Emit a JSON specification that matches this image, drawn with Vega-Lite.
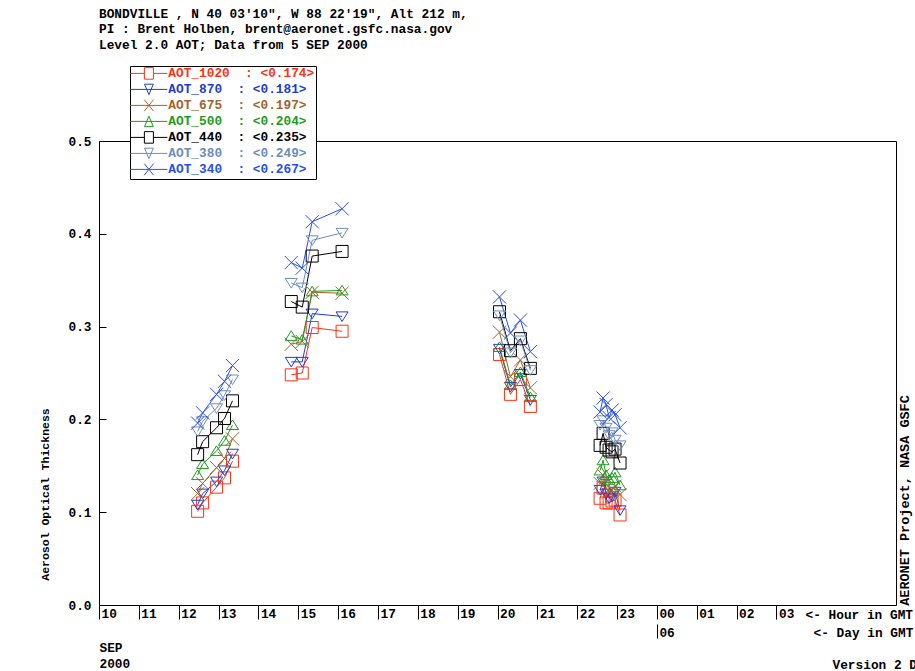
{
"$schema": "https://vega.github.io/schema/vega-lite/v6.json",
"width": 797, "height": 464,
"autosize": {"type": "none"},
"padding": {"left": 99, "top": 141, "right": 19, "bottom": 66},
"background": "white",
"title": {
  "text": ["BONDVILLE , N 40 03'10\", W 88 22'19\", Alt 212 m,", "PI : Brent Holben, brent@aeronet.gsfc.nasa.gov", "Level 2.0 AOT; Data from 5 SEP 2000"],
  "anchor": "start", "frame": "group", "offset": 14, "font": "Liberation Mono", "fontSize": 12.8, "fontWeight": "bold", "lineHeight": 15.3, "color": "black"
},
"config": {
  "view": {"stroke": "black", "strokeWidth": 1},
  "axis": {"labelFont": "Liberation Mono", "labelFontSize": 12.8, "labelFontWeight": "bold", "labelColor": "black", "titleFont": "Liberation Mono", "titleFontWeight": "bold", "titleColor": "black", "tickColor": "black", "grid": false, "domain": false}
},
"data": {"values": [
{"series":"AOT_1020","seg":1,"hour":12.475,"aot":0.101},{"series":"AOT_1020","seg":1,"hour":12.6,"aot":0.110},{"series":"AOT_1020","seg":1,"hour":12.95,"aot":0.127},{"series":"AOT_1020","seg":1,"hour":13.15,"aot":0.137},{"series":"AOT_1020","seg":1,"hour":13.35,"aot":0.155},
{"series":"AOT_870","seg":1,"hour":12.475,"aot":0.108},{"series":"AOT_870","seg":1,"hour":12.6,"aot":0.120},{"series":"AOT_870","seg":1,"hour":12.95,"aot":0.133},{"series":"AOT_870","seg":1,"hour":13.15,"aot":0.145},{"series":"AOT_870","seg":1,"hour":13.35,"aot":0.163},
{"series":"AOT_675","seg":1,"hour":12.475,"aot":0.120},{"series":"AOT_675","seg":1,"hour":12.6,"aot":0.131},{"series":"AOT_675","seg":1,"hour":12.95,"aot":0.148},{"series":"AOT_675","seg":1,"hour":13.15,"aot":0.158},{"series":"AOT_675","seg":1,"hour":13.35,"aot":0.179},
{"series":"AOT_500","seg":1,"hour":12.475,"aot":0.140},{"series":"AOT_500","seg":1,"hour":12.6,"aot":0.152},{"series":"AOT_500","seg":1,"hour":12.95,"aot":0.166},{"series":"AOT_500","seg":1,"hour":13.15,"aot":0.177},{"series":"AOT_500","seg":1,"hour":13.35,"aot":0.194},
{"series":"AOT_440","seg":1,"hour":12.475,"aot":0.162},{"series":"AOT_440","seg":1,"hour":12.6,"aot":0.176},{"series":"AOT_440","seg":1,"hour":12.95,"aot":0.191},{"series":"AOT_440","seg":1,"hour":13.15,"aot":0.201},{"series":"AOT_440","seg":1,"hour":13.35,"aot":0.220},
{"series":"AOT_380","seg":1,"hour":12.475,"aot":0.187},{"series":"AOT_380","seg":1,"hour":12.6,"aot":0.198},{"series":"AOT_380","seg":1,"hour":12.95,"aot":0.212},{"series":"AOT_380","seg":1,"hour":13.15,"aot":0.226},{"series":"AOT_380","seg":1,"hour":13.35,"aot":0.243},
{"series":"AOT_340","seg":1,"hour":12.475,"aot":0.196},{"series":"AOT_340","seg":1,"hour":12.6,"aot":0.207},{"series":"AOT_340","seg":1,"hour":12.95,"aot":0.227},{"series":"AOT_340","seg":1,"hour":13.15,"aot":0.241},{"series":"AOT_340","seg":1,"hour":13.35,"aot":0.258},
{"series":"AOT_1020","seg":2,"hour":14.825,"aot":0.248},{"series":"AOT_1020","seg":2,"hour":15.1,"aot":0.250},{"series":"AOT_1020","seg":2,"hour":15.35,"aot":0.299},{"series":"AOT_1020","seg":2,"hour":16.1,"aot":0.295},
{"series":"AOT_870","seg":2,"hour":14.825,"aot":0.262},{"series":"AOT_870","seg":2,"hour":15.1,"aot":0.262},{"series":"AOT_870","seg":2,"hour":15.35,"aot":0.314},{"series":"AOT_870","seg":2,"hour":16.1,"aot":0.311},
{"series":"AOT_675","seg":2,"hour":14.825,"aot":0.281},{"series":"AOT_675","seg":2,"hour":15.1,"aot":0.284},{"series":"AOT_675","seg":2,"hour":15.35,"aot":0.337},{"series":"AOT_675","seg":2,"hour":16.1,"aot":0.336},
{"series":"AOT_500","seg":2,"hour":14.825,"aot":0.290},{"series":"AOT_500","seg":2,"hour":15.1,"aot":0.286},{"series":"AOT_500","seg":2,"hour":15.35,"aot":0.338},{"series":"AOT_500","seg":2,"hour":16.1,"aot":0.339},
{"series":"AOT_440","seg":2,"hour":14.825,"aot":0.327},{"series":"AOT_440","seg":2,"hour":15.1,"aot":0.321},{"series":"AOT_440","seg":2,"hour":15.35,"aot":0.376},{"series":"AOT_440","seg":2,"hour":16.1,"aot":0.381},
{"series":"AOT_380","seg":2,"hour":14.825,"aot":0.347},{"series":"AOT_380","seg":2,"hour":15.1,"aot":0.342},{"series":"AOT_380","seg":2,"hour":15.35,"aot":0.393},{"series":"AOT_380","seg":2,"hour":16.1,"aot":0.401},
{"series":"AOT_340","seg":2,"hour":14.825,"aot":0.369},{"series":"AOT_340","seg":2,"hour":15.1,"aot":0.363},{"series":"AOT_340","seg":2,"hour":15.35,"aot":0.413},{"series":"AOT_340","seg":2,"hour":16.1,"aot":0.427},
{"series":"AOT_1020","seg":3,"hour":20.05,"aot":0.270},{"series":"AOT_1020","seg":3,"hour":20.325,"aot":0.227},{"series":"AOT_1020","seg":3,"hour":20.575,"aot":0.243},{"series":"AOT_1020","seg":3,"hour":20.825,"aot":0.214},
{"series":"AOT_870","seg":3,"hour":20.05,"aot":0.276},{"series":"AOT_870","seg":3,"hour":20.325,"aot":0.235},{"series":"AOT_870","seg":3,"hour":20.575,"aot":0.249},{"series":"AOT_870","seg":3,"hour":20.825,"aot":0.221},
{"series":"AOT_675","seg":3,"hour":20.05,"aot":0.294},{"series":"AOT_675","seg":3,"hour":20.325,"aot":0.246},{"series":"AOT_675","seg":3,"hour":20.575,"aot":0.264},{"series":"AOT_675","seg":3,"hour":20.825,"aot":0.234},
{"series":"AOT_500","seg":3,"hour":20.05,"aot":0.278},{"series":"AOT_500","seg":3,"hour":20.325,"aot":0.237},{"series":"AOT_500","seg":3,"hour":20.575,"aot":0.251},{"series":"AOT_500","seg":3,"hour":20.825,"aot":0.224},
{"series":"AOT_440","seg":3,"hour":20.05,"aot":0.316},{"series":"AOT_440","seg":3,"hour":20.325,"aot":0.274},{"series":"AOT_440","seg":3,"hour":20.575,"aot":0.287},{"series":"AOT_440","seg":3,"hour":20.825,"aot":0.255},
{"series":"AOT_380","seg":3,"hour":20.05,"aot":0.312},{"series":"AOT_380","seg":3,"hour":20.325,"aot":0.272},{"series":"AOT_380","seg":3,"hour":20.575,"aot":0.285},{"series":"AOT_380","seg":3,"hour":20.825,"aot":0.253},
{"series":"AOT_340","seg":3,"hour":20.05,"aot":0.332},{"series":"AOT_340","seg":3,"hour":20.325,"aot":0.293},{"series":"AOT_340","seg":3,"hour":20.575,"aot":0.307},{"series":"AOT_340","seg":3,"hour":20.825,"aot":0.273},
{"series":"AOT_1020","seg":4,"hour":22.575,"aot":0.115},{"series":"AOT_1020","seg":4,"hour":22.65,"aot":0.126},{"series":"AOT_1020","seg":4,"hour":22.725,"aot":0.110},{"series":"AOT_1020","seg":4,"hour":22.8,"aot":0.110},{"series":"AOT_1020","seg":4,"hour":22.875,"aot":0.112},{"series":"AOT_1020","seg":4,"hour":22.95,"aot":0.113},{"series":"AOT_1020","seg":4,"hour":23.075,"aot":0.097},
{"series":"AOT_870","seg":4,"hour":22.575,"aot":0.124},{"series":"AOT_870","seg":4,"hour":22.65,"aot":0.133},{"series":"AOT_870","seg":4,"hour":22.725,"aot":0.120},{"series":"AOT_870","seg":4,"hour":22.8,"aot":0.115},{"series":"AOT_870","seg":4,"hour":22.875,"aot":0.117},{"series":"AOT_870","seg":4,"hour":22.95,"aot":0.122},{"series":"AOT_870","seg":4,"hour":23.075,"aot":0.102},
{"series":"AOT_675","seg":4,"hour":22.575,"aot":0.131},{"series":"AOT_675","seg":4,"hour":22.65,"aot":0.140},{"series":"AOT_675","seg":4,"hour":22.725,"aot":0.126},{"series":"AOT_675","seg":4,"hour":22.8,"aot":0.122},{"series":"AOT_675","seg":4,"hour":22.875,"aot":0.124},{"series":"AOT_675","seg":4,"hour":22.95,"aot":0.128},{"series":"AOT_675","seg":4,"hour":23.075,"aot":0.119},
{"series":"AOT_500","seg":4,"hour":22.575,"aot":0.145},{"series":"AOT_500","seg":4,"hour":22.65,"aot":0.156},{"series":"AOT_500","seg":4,"hour":22.725,"aot":0.140},{"series":"AOT_500","seg":4,"hour":22.8,"aot":0.135},{"series":"AOT_500","seg":4,"hour":22.875,"aot":0.137},{"series":"AOT_500","seg":4,"hour":22.95,"aot":0.143},{"series":"AOT_500","seg":4,"hour":23.075,"aot":0.129},
{"series":"AOT_440","seg":4,"hour":22.575,"aot":0.172},{"series":"AOT_440","seg":4,"hour":22.65,"aot":0.185},{"series":"AOT_440","seg":4,"hour":22.725,"aot":0.170},{"series":"AOT_440","seg":4,"hour":22.8,"aot":0.167},{"series":"AOT_440","seg":4,"hour":22.875,"aot":0.165},{"series":"AOT_440","seg":4,"hour":22.95,"aot":0.168},{"series":"AOT_440","seg":4,"hour":23.075,"aot":0.153},
{"series":"AOT_380","seg":4,"hour":22.575,"aot":0.194},{"series":"AOT_380","seg":4,"hour":22.65,"aot":0.199},{"series":"AOT_380","seg":4,"hour":22.725,"aot":0.191},{"series":"AOT_380","seg":4,"hour":22.8,"aot":0.183},{"series":"AOT_380","seg":4,"hour":22.875,"aot":0.186},{"series":"AOT_380","seg":4,"hour":22.95,"aot":0.178},{"series":"AOT_380","seg":4,"hour":23.075,"aot":0.172},
{"series":"AOT_340","seg":4,"hour":22.575,"aot":0.208},{"series":"AOT_340","seg":4,"hour":22.65,"aot":0.223},{"series":"AOT_340","seg":4,"hour":22.725,"aot":0.216},{"series":"AOT_340","seg":4,"hour":22.8,"aot":0.202},{"series":"AOT_340","seg":4,"hour":22.875,"aot":0.210},{"series":"AOT_340","seg":4,"hour":22.95,"aot":0.205},{"series":"AOT_340","seg":4,"hour":23.075,"aot":0.191}
]},
"layer": [
 {
  "mark": {"type": "line", "strokeWidth": 1},
  "encoding": {
   "x": {"field": "hour", "type": "quantitative", "scale": {"domain": [10, 30], "nice": false, "zero": false},
     "axis": {"orient": "bottom", "values": [10,11,12,13,14,15,16,17,18,19,20,21,22,23,24,25,26,27], "labelExpr": "(datum.value % 24 < 10 ? '0' : '') + (datum.value % 24)", "tickSize": 14, "labelAlign": "left", "labelBaseline": "top", "labelOffset": 2, "labelPadding": -12, "labelFlush": false, "labelOverlap": false,
       "title": "<- Hour in GMT", "titleX": 706, "titleY": 9, "titleAlign": "left", "titleBaseline": "middle", "titleFontSize": 12.8}},
   "y": {"field": "aot", "type": "quantitative", "scale": {"domain": [0, 0.5], "nice": false},
     "axis": {"orient": "left", "values": [0, 0.1, 0.2, 0.3, 0.4, 0.5], "format": ".1f", "offset": -7, "tickSize": 7, "labelPadding": 8, "labelFlush": false,
       "title": "Aerosol Optical Thickness", "titleX": -61, "titleY": 353, "titleAngle": 270, "titleAlign": "center", "titleBaseline": "middle", "titleFontSize": 11.5}},
   "color": {"field": "series", "type": "nominal",
     "scale": {"domain": ["AOT_1020","AOT_870","AOT_675","AOT_500","AOT_440","AOT_380","AOT_340"], "range": ["#ff3214","#1e3cd2","#a0642d","#1e9b1e","#000000","#6e8cbe","#2850f0"]},
     "legend": null},
   "detail": {"field": "seg", "type": "nominal"}
  }
 },
 {
  "mark": {"type": "point", "filled": false, "strokeWidth": 1, "size": 144, "opacity": 1},
  "encoding": {
   "x": {"field": "hour", "type": "quantitative",
     "axis": {"orient": "bottom", "values": [24], "labelExpr": "'06'", "offset": 19, "tickSize": 14, "labelAlign": "left", "labelBaseline": "top", "labelOffset": 2, "labelPadding": -12, "labelFlush": false,
       "title": "<- Day in GMT", "titleX": 714, "titleY": 8, "titleAlign": "left", "titleBaseline": "middle", "titleFontSize": 12.8}},
   "y": {"field": "aot", "type": "quantitative",
     "axis": {"orient": "right", "labels": false, "ticks": false, "title": "AERONET Project, NASA GSFC", "titleAngle": 270, "titleX": 8, "titleY": 359, "titleAlign": "center", "titleBaseline": "middle", "titleFontSize": 13.5}},
   "color": {"field": "series", "type": "nominal",
     "legend": {"orient": "none", "legendX": 31, "legendY": -75, "title": null,
       "symbolSize": 121, "symbolStrokeWidth": 1, "symbolFillColor": "transparent", "symbolOffset": 11.5, "labelOffset": 13,
       "symbolType": {"expr": "(datum.value == 'AOT_1020' || datum.value == 'AOT_440') ? 'M-3.36,0H-0.82M0.82,0H3.36M-0.82,-1.05H0.82V1.05H-0.82Z' : (datum.value == 'AOT_870' || datum.value == 'AOT_380') ? 'M-3.36,0H3.36M-0.8,-0.95H0.8L0,0.95Z' : (datum.value == 'AOT_675' || datum.value == 'AOT_340') ? 'M-3.36,0H3.36M-0.85,-1.05L0.85,1.05M0.85,-1.05L-0.85,1.05' : 'M-3.36,0H3.36M0,-0.95L0.8,0.95H-0.8Z'"},
       "labelColor": {"expr": "scale('color', datum.value)"},
       "labelFont": "Liberation Mono", "labelFontSize": 12.8, "labelFontWeight": "bold", "labelLimit": 400,
       "rowPadding": 0, "padding": 1, "strokeColor": "black", "fillColor": "white",
       "labelExpr": "datum.value == 'AOT_1020' ? 'AOT_1020\u00a0\u00a0: <0.174>' : datum.value == 'AOT_870' ? 'AOT_870\u00a0\u00a0: <0.181>' : datum.value == 'AOT_675' ? 'AOT_675\u00a0\u00a0: <0.197>' : datum.value == 'AOT_500' ? 'AOT_500\u00a0\u00a0: <0.204>' : datum.value == 'AOT_440' ? 'AOT_440\u00a0\u00a0: <0.235>' : datum.value == 'AOT_380' ? 'AOT_380\u00a0\u00a0: <0.249>' : 'AOT_340\u00a0\u00a0: <0.267>'"}},
   "shape": {"field": "series", "type": "nominal",
     "scale": {"domain": ["AOT_340","AOT_380","AOT_440","AOT_500","AOT_675","AOT_870","AOT_1020"], "range": ["M-1.1,-1.1L1.1,1.1M-1.1,1.1L1.1,-1.1","M-1,-0.75H1L0,0.85Z","M-1,-1H1V1H-1Z","M0,-0.85L1,0.75H-1Z","M-1.1,-1.1L1.1,1.1M-1.1,1.1L1.1,-1.1","M-1,-0.75H1L0,0.85Z","M-1,-1H1V1H-1Z"]},
     "legend": null}
  }
 },
 {
  "mark": {"type": "point", "opacity": 0},
  "encoding": {
   "x": {"field": "hour", "type": "quantitative",
     "axis": {"orient": "bottom", "values": [10], "labelExpr": "['SEP', '2000']", "offset": 36, "ticks": false, "labelAlign": "left", "labelBaseline": "top", "labelPadding": 0, "labelLineHeight": 16, "labelFlush": false,
       "title": "Version 2 D", "titleX": 733, "titleY": 23, "titleAlign": "left", "titleBaseline": "middle", "titleFontSize": 12.8}},
   "y": {"field": "aot", "type": "quantitative", "axis": null}
  }
 }
],
"resolve": {"axis": {"x": "independent", "y": "independent"}, "legend": {"color": "independent", "shape": "independent"}}
}
